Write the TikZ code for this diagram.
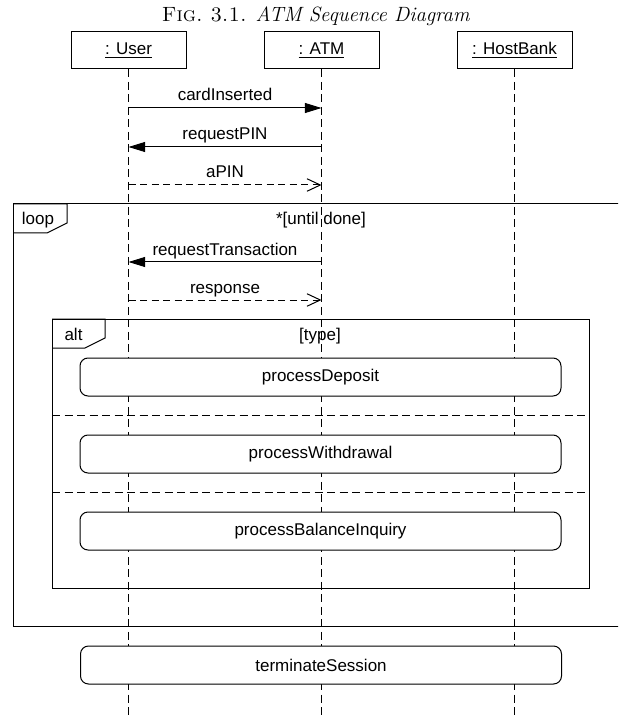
\documentclass[tikz,border=0pt]{standalone}
\usepackage{fontspec}
\newfontfamily\diagfont{Liberation Sans}
\usetikzlibrary{arrows.meta,positioning}

\begin{document}
\begin{tikzpicture}[
  x=0.6pt, y=-0.6pt,
  line width=0.6pt,
  node distance=46.2pt,
  font=\diagfont\fontsize{10.2}{12}\selectfont,
  obj/.style={draw, minimum width=69pt, minimum height=22.2pt, inner sep=0pt},
  lifeline/.style={dash pattern=on 4.8pt off 2.7pt},
  call/.style={-{Triangle[length=10pt,width=6pt]}},
  reply/.style={dash pattern=on 4.2pt off 2.7pt, -{Straight Barb[length=8pt,width=7.5pt]}},
  msg/.style={anchor=base, yshift=4.2pt, inner sep=0pt},
  guard/.style={anchor=base, inner sep=0pt},
  action/.style={draw, fill=white, rounded corners=4.8pt,
    minimum width=288.6pt, minimum height=22.8pt}
]
  \clip (0,0) rectangle (618,719);

  \node[font=\rmfamily\fontsize{12.4}{14}\selectfont, anchor=base, inner sep=0pt] (title)
    at (316,22) {\textsc{Fig.~3.1.} \textit{ATM Sequence Diagram}};

  % participants
  \node[obj] (user) at (128.5,50.5) {\underline{: User}};
  \node[obj, right=of user] (atm)  {\underline{: ATM}};
  \node[obj, right=of atm]  (bank) {\underline{: HostBank}};

  \coordinate (userEnd) at (user |- 0,719);
  \coordinate (atmEnd)  at (atm |- 0,719);
  \coordinate (bankEnd) at (bank |- 0,719);
  \draw[lifeline] (user) -- (userEnd);
  \draw[lifeline] (atm)  -- (atmEnd);
  \draw[lifeline] (bank) -- (bankEnd);

  % messages
  \coordinate (u1) at (user |- 0,108); \coordinate (a1) at (atm |- 0,108);
  \coordinate (u2) at (user |- 0,147); \coordinate (a2) at (atm |- 0,147);
  \coordinate (u3) at (user |- 0,185); \coordinate (a3) at (atm |- 0,185);
  \coordinate (u4) at (user |- 0,262); \coordinate (a4) at (atm |- 0,262);
  \coordinate (u5) at (user |- 0,300); \coordinate (a5) at (atm |- 0,300);

  \draw[call]  (u1) -- node[msg] {cardInserted} (a1);
  \draw[call]  (a2) -- node[msg] {requestPIN} (u2);
  \draw[reply] (u3) -- node[msg] {aPIN} (a3);
  \draw[call]  (a4) -- node[msg] {requestTransaction} (u4);
  \draw[reply] (u5) -- node[msg] {response} (a5);

  % loop fragment
  \draw (630,204) -- (13,204) -- (13,626) -- (630,626);
  \draw (13,204) -| (67,223) -- (47,233) -- (13,233);
  \node[guard] (loopTag)   at (38,225)  {loop};
  \node[guard] (loopGuard) at (321,225) {*[until done]};

  % alt fragment
  \draw (52,319) rectangle (589,588);
  \draw (52,319) -| (105,338) -- (85,348) -- (52,348);
  \node[guard] (altTag)   at (73.5,340) {alt};
  \node[guard] (altGuard) at (320,340)  {[type]};
  \draw[lifeline] (52,415) -- (589,415);
  \draw[lifeline] (52,492) -- (589,492);

  \node[action] (deposit)    at (320.5,377) {processDeposit};
  \node[action] (withdrawal) at (320.5,454) {processWithdrawal};
  \node[action] (balance)    at (320.5,531) {processBalanceInquiry};

  \node[action] (terminate)  at (321,665)   {terminateSession};
\end{tikzpicture}
\end{document}
